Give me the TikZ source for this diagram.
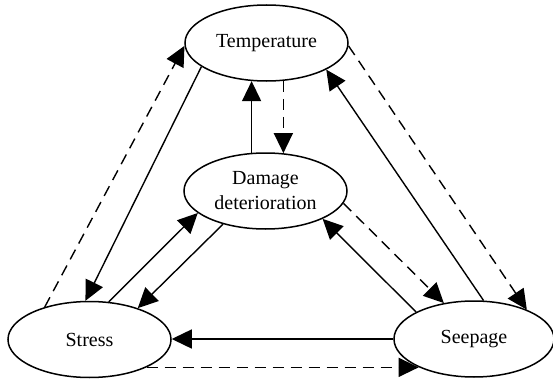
\documentclass[tikz,border=0pt]{standalone}
\usepackage{fontspec}
\setmainfont{Liberation Serif}
\usetikzlibrary{arrows.meta,shapes.geometric}
\begin{document}
\begin{tikzpicture}[x=0.5pt,y=-0.5pt,
  bub/.style={ellipse,draw,line width=0.75pt,inner sep=0pt,minimum width=81.5pt,minimum height=38pt,font=\fontsize{10}{12.5}\selectfont,align=center},
  sol/.style={line width=0.7pt,-{Triangle[length=10pt,width=9.5pt]}},
  dsh/.style={sol,dash pattern=on 5.5pt off 3.5pt}]
\useasboundingbox (0,0) rectangle (553,380);
\node[bub] (T) at (266.5,43) {Temperature};
\node[bub] (D) at (265.5,191) {Damage\\deterioration};
\node[bub] (St) at (89.5,339.5) {Stress};
\node[bub,minimum width=80pt] (Se) at (474,339) {Seepage};
% Stress - Temperature
\draw[dsh] (St.144.7) -- (T.182);
\draw[sol] (T.200.7) -- (St.96.8);
% Stress - Damage
\draw[sol] (St.63.7) -- (D.198);
\draw[sol] (D.218) -- (St.33.8);
% Damage - Temperature
\draw[sol] (D.110) -- (D.110 |- T.249);
\draw[dsh] (T.294) -- (T.294 |- D.65);
% Seepage - Temperature
\draw[sol] (Se.76.7) -- (T.336);
\draw[dsh] (T.-2) -- (Se.29.5);
% Seepage - Damage
\draw[sol] (Se.155) -- (D.334.8);
\draw[dsh] (D.351.2) -- (Se.130);
% Seepage - Stress
\draw[sol] (Se.west) -- (Se.west -| St.east);
\draw[dsh] (St.334) -- (St.334 -| Se.207);
\end{tikzpicture}
\end{document}
